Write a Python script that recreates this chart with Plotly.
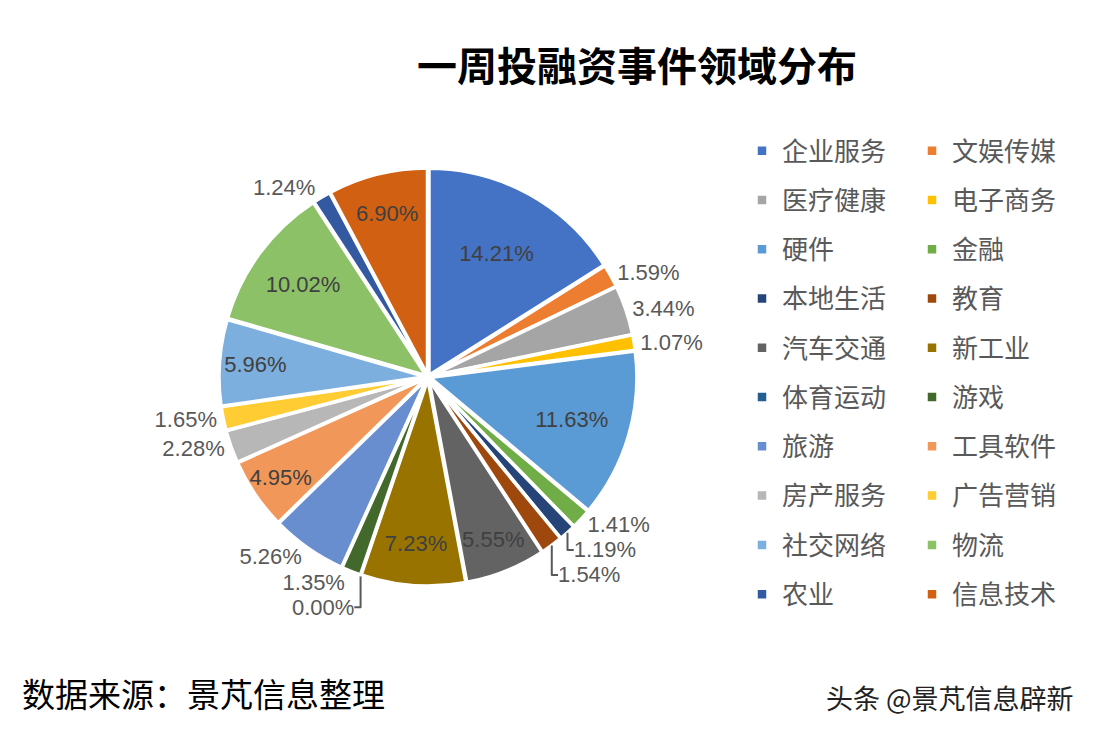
import plotly.graph_objects as go

categories = ["企业服务", "文娱传媒", "医疗健康", "电子商务", "硬件", "金融", "本地生活", "教育",
              "汽车交通", "新工业", "体育运动", "游戏", "旅游", "工具软件", "房产服务", "广告营销",
              "社交网络", "物流", "农业", "信息技术"]
shares = [14.21, 1.59, 3.44, 1.07, 11.63, 1.41, 1.19, 1.54,
          5.55, 7.23, 0.00, 1.35, 5.26, 4.95, 2.28, 1.65,
          5.96, 10.02, 1.24, 6.90]
colors = ["#4472C4", "#ED7D31", "#A5A5A5", "#FFC000", "#5B9BD5", "#70AD47", "#264478", "#9E480E",
          "#636363", "#997300", "#255E91", "#43682B", "#698ED0", "#F1975A", "#B7B7B7", "#FFCD33",
          "#7CAFDD", "#8CC168", "#335AA1", "#D26012"]
inside_set = {"企业服务", "硬件", "汽车交通", "新工业", "工具软件", "社交网络", "物流", "信息技术"}

labels_txt = [f"{v:.2f}%" for v in shares]
positions = ["inside" if c in inside_set else "outside" for c in categories]
legend_names = [f'<span style="font-size:26px;baseline-shift:4px">{c}</span>' for c in categories]

W, H = 1096, 734
PW = 690   # plot area width (legend sits in the right margin)
BW = 50    # transparent legend border, used to force two entries per row

fig = go.Figure(go.Pie(
    labels=legend_names,
    values=shares,
    text=labels_txt,
    textinfo="text",
    textposition=positions,
    insidetextorientation="horizontal",
    sort=False,
    direction="clockwise",
    rotation=0,
    pull=0.01,
    marker=dict(colors=colors, line=dict(color="white", width=3.5)),
    textfont=dict(family="Liberation Sans, Arial", size=22, color="#404040"),
    insidetextfont=dict(family="Liberation Sans, Arial", size=22, color="#404040"),
    outsidetextfont=dict(family="Liberation Sans, Arial", size=22, color="#595959"),
    domain=dict(x=[219 / PW, 637 / PW], y=[(H - 586) / H, (H - 168) / H]),
    customdata=categories,
    hovertemplate="%{customdata}: %{text}<extra></extra>",
    showlegend=True,
))

fig.update_layout(
    width=W, height=H,
    margin=dict(l=0, r=W - PW, t=0, b=0, autoexpand=False),
    paper_bgcolor="white",
    plot_bgcolor="white",
    uniformtext=dict(minsize=22, mode="show"),
    title=dict(text="<b>一周投融资事件领域分布</b>", x=637 / W, xanchor="center",
               y=1 - 67 / H, yanchor="middle",
               font=dict(family="Noto Sans CJK SC", size=40, color="#000000")),
    legend=dict(
        orientation="h", x=(742 - BW) / PW, xanchor="left",
        y=1 - (121 - BW) / H, yanchor="top",
        font=dict(family="Noto Sans CJK SC", size=35.6, color="#595959"),
        entrywidth=125, entrywidthmode="pixels",
        borderwidth=BW, bordercolor="rgba(0,0,0,0)",
        maxheight=730,
        bgcolor="rgba(0,0,0,0)", traceorder="normal",
    ),
    annotations=[
        dict(text="数据来源：景芃信息整理", x=20 / PW, y=1 - 693 / H, xref="paper", yref="paper",
             xanchor="left", yanchor="middle", showarrow=False,
             font=dict(family="Noto Sans CJK SC", size=33, color="#000000")),
        dict(text="头条 @景芃信息辟新", x=1076 / PW, y=1 - 697 / H, xref="paper", yref="paper",
             xanchor="right", yanchor="middle", showarrow=False,
             font=dict(family="Noto Sans CJK SC", size=27, color="#222222")),
    ],
)

fig.write_html("out.html")
